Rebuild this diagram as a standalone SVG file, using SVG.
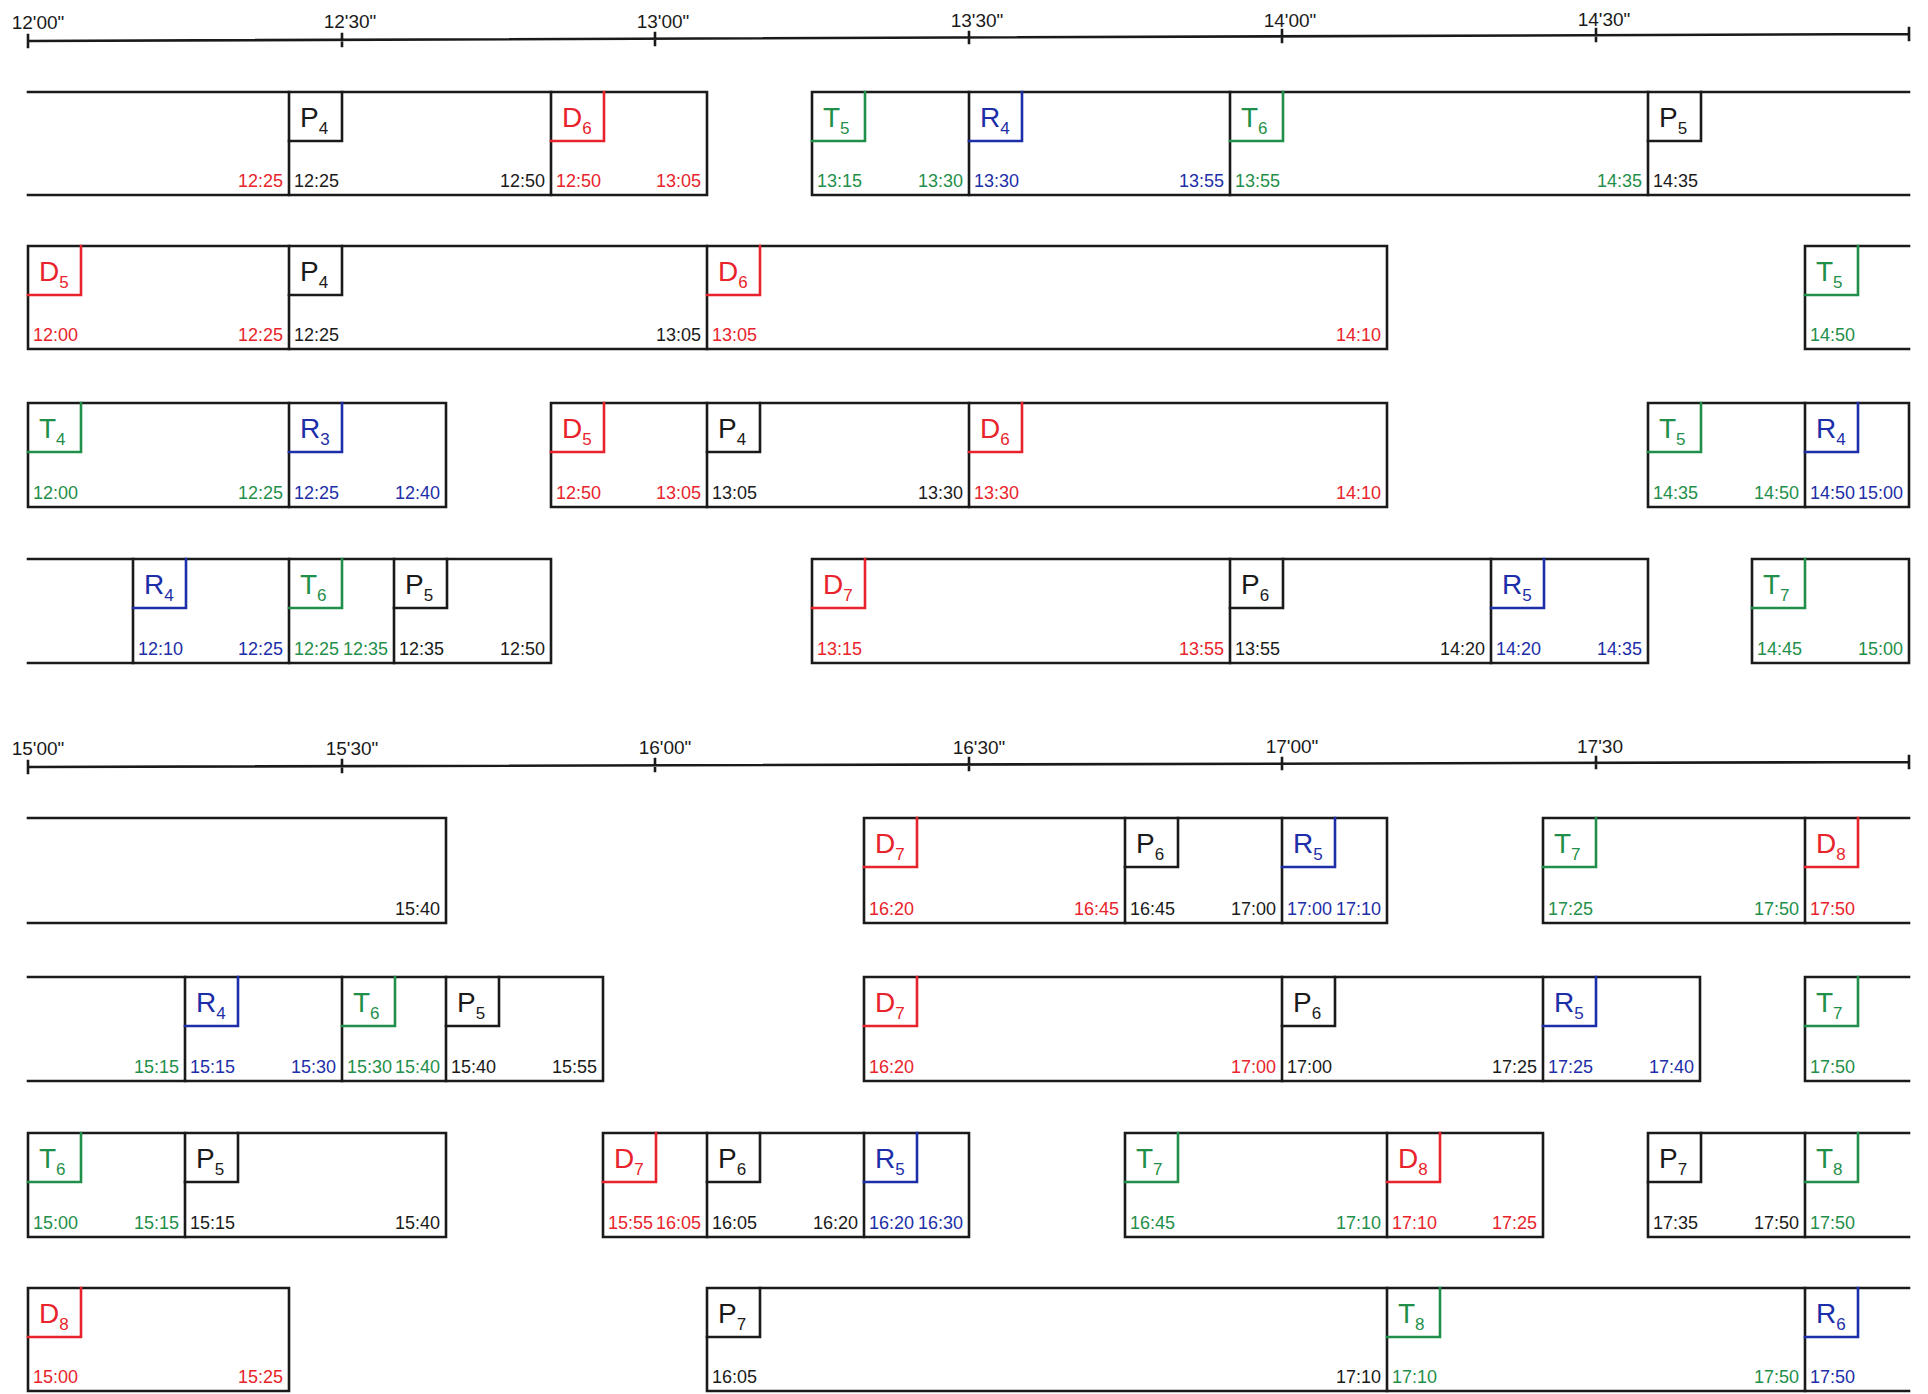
<svg xmlns="http://www.w3.org/2000/svg" width="1928" height="1394" viewBox="0 0 1928 1394">
<style>
.ln{fill:none;stroke:#1a1a1a;stroke-width:2.6;stroke-linecap:square}
.bx{fill:none;stroke-width:2.6;stroke-linecap:square}
.br{stroke:#e8232b}.bg{stroke:#1f8f4a}.bb{stroke:#1c2ea8}.bk{stroke:#1a1a1a}
text{font-family:"Liberation Sans",Arial,sans-serif}
.tm{font-size:18px}
.e{text-anchor:end}
.lb{font-size:28px}
.s{font-size:17px}
.cr{fill:#e8232b}.cg{fill:#1f8f4a}.cb{fill:#1c2ea8}.ck{fill:#1a1a1a}
.ax{font-size:19px;text-anchor:middle;fill:#1a1a1a}
</style>
<rect width="1928" height="1394" fill="#ffffff"/>
<g id="timelines">
<g id="axis-1">
<path class="ln" d="M28 41L1909 34M28 35V47M342 34V46M655 33V45M969 32V43M1282 30V42M1596 29V41M1909 28V40"/>
<text class="ax" x="38" y="29">12'00"</text>
<text class="ax" x="350" y="28">12'30"</text>
<text class="ax" x="663" y="28">13'00"</text>
<text class="ax" x="977" y="27">13'30"</text>
<text class="ax" x="1290" y="27">14'00"</text>
<text class="ax" x="1604" y="26">14'30"</text>
</g>
<g id="axis-2">
<path class="ln" d="M28 767L1909 762M28 761V773M342 760V772M655 759V771M969 758V770M1282 758V769M1596 757V768M1909 756V768"/>
<text class="ax" x="38" y="755">15'00"</text>
<text class="ax" x="352" y="755">15'30"</text>
<text class="ax" x="665" y="754">16'00"</text>
<text class="ax" x="979" y="754">16'30"</text>
<text class="ax" x="1292" y="753">17'00"</text>
<text class="ax" x="1600" y="753">17'30</text>
</g>
</g>
<g id="connectors"></g>

<!-- Row A -->
<g id="a0"><path class="ln" d="M28 92H289M28 195H289"/><text class="tm cr e" x="283" y="187">12:25</text></g>
<g id="a1"><path class="ln" d="M289 92H551M289 195H551M289 92V195"/><path class="bx bk" d="M342 92V141H289"/><text class="lb ck" x="300" y="127">P<tspan class="s" dy="7">4</tspan></text><text class="tm ck" x="294" y="187">12:25</text><text class="tm ck e" x="545" y="187">12:50</text></g>
<g id="a2"><path class="ln" d="M551 92H707M551 195H707M551 92V195M707 92V195"/><path class="bx br" d="M604 92V141H551"/><text class="lb cr" x="562" y="127">D<tspan class="s" dy="7">6</tspan></text><text class="tm cr" x="556" y="187">12:50</text><text class="tm cr e" x="701" y="187">13:05</text></g>
<g id="a3"><path class="ln" d="M812 92H969M812 195H969M812 92V195"/><path class="bx bg" d="M865 92V141H812"/><text class="lb cg" x="823" y="127">T<tspan class="s" dy="7">5</tspan></text><text class="tm cg" x="817" y="187">13:15</text><text class="tm cg e" x="963" y="187">13:30</text></g>
<g id="a4"><path class="ln" d="M969 92H1230M969 195H1230M969 92V195"/><path class="bx bb" d="M1022 92V141H969"/><text class="lb cb" x="980" y="127">R<tspan class="s" dy="7">4</tspan></text><text class="tm cb" x="974" y="187">13:30</text><text class="tm cb e" x="1224" y="187">13:55</text></g>
<g id="a5"><path class="ln" d="M1230 92H1648M1230 195H1648M1230 92V195"/><path class="bx bg" d="M1283 92V141H1230"/><text class="lb cg" x="1241" y="127">T<tspan class="s" dy="7">6</tspan></text><text class="tm cg" x="1235" y="187">13:55</text><text class="tm cg e" x="1642" y="187">14:35</text></g>
<g id="a6"><path class="ln" d="M1648 92H1909M1648 195H1909M1648 92V195"/><path class="bx bk" d="M1701 92V141H1648"/><text class="lb ck" x="1659" y="127">P<tspan class="s" dy="7">5</tspan></text><text class="tm ck" x="1653" y="187">14:35</text></g>

<!-- Row B -->
<g id="b1"><path class="ln" d="M28 246H289M28 349H289M28 246V349"/><path class="bx br" d="M81 246V295H28"/><text class="lb cr" x="39" y="281">D<tspan class="s" dy="7">5</tspan></text><text class="tm cr" x="33" y="341">12:00</text><text class="tm cr e" x="283" y="341">12:25</text></g>
<g id="b2"><path class="ln" d="M289 246H707M289 349H707M289 246V349"/><path class="bx bk" d="M342 246V295H289"/><text class="lb ck" x="300" y="281">P<tspan class="s" dy="7">4</tspan></text><text class="tm ck" x="294" y="341">12:25</text><text class="tm ck e" x="701" y="341">13:05</text></g>
<g id="b3"><path class="ln" d="M707 246H1387M707 349H1387M707 246V349M1387 246V349"/><path class="bx br" d="M760 246V295H707"/><text class="lb cr" x="718" y="281">D<tspan class="s" dy="7">6</tspan></text><text class="tm cr" x="712" y="341">13:05</text><text class="tm cr e" x="1381" y="341">14:10</text></g>
<g id="b4"><path class="ln" d="M1805 246H1909M1805 349H1909M1805 246V349"/><path class="bx bg" d="M1858 246V295H1805"/><text class="lb cg" x="1816" y="281">T<tspan class="s" dy="7">5</tspan></text><text class="tm cg" x="1810" y="341">14:50</text></g>

<!-- Row C -->
<g id="c1"><path class="ln" d="M28 403H289M28 507H289M28 403V507"/><path class="bx bg" d="M81 403V452H28"/><text class="lb cg" x="39" y="438">T<tspan class="s" dy="7">4</tspan></text><text class="tm cg" x="33" y="499">12:00</text><text class="tm cg e" x="283" y="499">12:25</text></g>
<g id="c2"><path class="ln" d="M289 403H446M289 507H446M289 403V507M446 403V507"/><path class="bx bb" d="M342 403V452H289"/><text class="lb cb" x="300" y="438">R<tspan class="s" dy="7">3</tspan></text><text class="tm cb" x="294" y="499">12:25</text><text class="tm cb e" x="440" y="499">12:40</text></g>
<g id="c3"><path class="ln" d="M551 403H707M551 507H707M551 403V507"/><path class="bx br" d="M604 403V452H551"/><text class="lb cr" x="562" y="438">D<tspan class="s" dy="7">5</tspan></text><text class="tm cr" x="556" y="499">12:50</text><text class="tm cr e" x="701" y="499">13:05</text></g>
<g id="c4"><path class="ln" d="M707 403H969M707 507H969M707 403V507"/><path class="bx bk" d="M760 403V452H707"/><text class="lb ck" x="718" y="438">P<tspan class="s" dy="7">4</tspan></text><text class="tm ck" x="712" y="499">13:05</text><text class="tm ck e" x="963" y="499">13:30</text></g>
<g id="c5"><path class="ln" d="M969 403H1387M969 507H1387M969 403V507M1387 403V507"/><path class="bx br" d="M1022 403V452H969"/><text class="lb cr" x="980" y="438">D<tspan class="s" dy="7">6</tspan></text><text class="tm cr" x="974" y="499">13:30</text><text class="tm cr e" x="1381" y="499">14:10</text></g>
<g id="c6"><path class="ln" d="M1648 403H1805M1648 507H1805M1648 403V507"/><path class="bx bg" d="M1701 403V452H1648"/><text class="lb cg" x="1659" y="438">T<tspan class="s" dy="7">5</tspan></text><text class="tm cg" x="1653" y="499">14:35</text><text class="tm cg e" x="1799" y="499">14:50</text></g>
<g id="c7"><path class="ln" d="M1805 403H1909M1805 507H1909M1805 403V507M1909 403V507"/><path class="bx bb" d="M1858 403V452H1805"/><text class="lb cb" x="1816" y="438">R<tspan class="s" dy="7">4</tspan></text><text class="tm cb" x="1810" y="499">14:50</text><text class="tm cb e" x="1903" y="499">15:00</text></g>

<!-- Row D -->
<g id="d0"><path class="ln" d="M28 559H133M28 663H133"/></g>
<g id="d1"><path class="ln" d="M133 559H289M133 663H289M133 559V663"/><path class="bx bb" d="M186 559V608H133"/><text class="lb cb" x="144" y="594">R<tspan class="s" dy="7">4</tspan></text><text class="tm cb" x="138" y="655">12:10</text><text class="tm cb e" x="283" y="655">12:25</text></g>
<g id="d2"><path class="ln" d="M289 559H394M289 663H394M289 559V663"/><path class="bx bg" d="M342 559V608H289"/><text class="lb cg" x="300" y="594">T<tspan class="s" dy="7">6</tspan></text><text class="tm cg" x="294" y="655">12:25</text><text class="tm cg e" x="388" y="655">12:35</text></g>
<g id="d3"><path class="ln" d="M394 559H551M394 663H551M394 559V663M551 559V663"/><path class="bx bk" d="M447 559V608H394"/><text class="lb ck" x="405" y="594">P<tspan class="s" dy="7">5</tspan></text><text class="tm ck" x="399" y="655">12:35</text><text class="tm ck e" x="545" y="655">12:50</text></g>
<g id="d4"><path class="ln" d="M812 559H1230M812 663H1230M812 559V663"/><path class="bx br" d="M865 559V608H812"/><text class="lb cr" x="823" y="594">D<tspan class="s" dy="7">7</tspan></text><text class="tm cr" x="817" y="655">13:15</text><text class="tm cr e" x="1224" y="655">13:55</text></g>
<g id="d5"><path class="ln" d="M1230 559H1491M1230 663H1491M1230 559V663"/><path class="bx bk" d="M1283 559V608H1230"/><text class="lb ck" x="1241" y="594">P<tspan class="s" dy="7">6</tspan></text><text class="tm ck" x="1235" y="655">13:55</text><text class="tm ck e" x="1485" y="655">14:20</text></g>
<g id="d6"><path class="ln" d="M1491 559H1648M1491 663H1648M1491 559V663M1648 559V663"/><path class="bx bb" d="M1544 559V608H1491"/><text class="lb cb" x="1502" y="594">R<tspan class="s" dy="7">5</tspan></text><text class="tm cb" x="1496" y="655">14:20</text><text class="tm cb e" x="1642" y="655">14:35</text></g>
<g id="d7"><path class="ln" d="M1752 559H1909M1752 663H1909M1752 559V663M1909 559V663"/><path class="bx bg" d="M1805 559V608H1752"/><text class="lb cg" x="1763" y="594">T<tspan class="s" dy="7">7</tspan></text><text class="tm cg" x="1757" y="655">14:45</text><text class="tm cg e" x="1903" y="655">15:00</text></g>

<!-- Row E -->
<g id="e0"><path class="ln" d="M28 818H446M28 923H446M446 818V923"/><text class="tm ck e" x="440" y="915">15:40</text></g>
<g id="e1"><path class="ln" d="M864 818H1125M864 923H1125M864 818V923"/><path class="bx br" d="M917 818V867H864"/><text class="lb cr" x="875" y="853">D<tspan class="s" dy="7">7</tspan></text><text class="tm cr" x="869" y="915">16:20</text><text class="tm cr e" x="1119" y="915">16:45</text></g>
<g id="e2"><path class="ln" d="M1125 818H1282M1125 923H1282M1125 818V923"/><path class="bx bk" d="M1178 818V867H1125"/><text class="lb ck" x="1136" y="853">P<tspan class="s" dy="7">6</tspan></text><text class="tm ck" x="1130" y="915">16:45</text><text class="tm ck e" x="1276" y="915">17:00</text></g>
<g id="e3"><path class="ln" d="M1282 818H1387M1282 923H1387M1282 818V923M1387 818V923"/><path class="bx bb" d="M1335 818V867H1282"/><text class="lb cb" x="1293" y="853">R<tspan class="s" dy="7">5</tspan></text><text class="tm cb" x="1287" y="915">17:00</text><text class="tm cb e" x="1381" y="915">17:10</text></g>
<g id="e4"><path class="ln" d="M1543 818H1805M1543 923H1805M1543 818V923"/><path class="bx bg" d="M1596 818V867H1543"/><text class="lb cg" x="1554" y="853">T<tspan class="s" dy="7">7</tspan></text><text class="tm cg" x="1548" y="915">17:25</text><text class="tm cg e" x="1799" y="915">17:50</text></g>
<g id="e5"><path class="ln" d="M1805 818H1909M1805 923H1909M1805 818V923"/><path class="bx br" d="M1858 818V867H1805"/><text class="lb cr" x="1816" y="853">D<tspan class="s" dy="7">8</tspan></text><text class="tm cr" x="1810" y="915">17:50</text></g>

<!-- Row F -->
<g id="f0"><path class="ln" d="M28 977H185M28 1081H185"/><text class="tm cg e" x="179" y="1073">15:15</text></g>
<g id="f1"><path class="ln" d="M185 977H342M185 1081H342M185 977V1081"/><path class="bx bb" d="M238 977V1026H185"/><text class="lb cb" x="196" y="1012">R<tspan class="s" dy="7">4</tspan></text><text class="tm cb" x="190" y="1073">15:15</text><text class="tm cb e" x="336" y="1073">15:30</text></g>
<g id="f2"><path class="ln" d="M342 977H446M342 1081H446M342 977V1081"/><path class="bx bg" d="M395 977V1026H342"/><text class="lb cg" x="353" y="1012">T<tspan class="s" dy="7">6</tspan></text><text class="tm cg" x="347" y="1073">15:30</text><text class="tm cg e" x="440" y="1073">15:40</text></g>
<g id="f3"><path class="ln" d="M446 977H603M446 1081H603M446 977V1081M603 977V1081"/><path class="bx bk" d="M499 977V1026H446"/><text class="lb ck" x="457" y="1012">P<tspan class="s" dy="7">5</tspan></text><text class="tm ck" x="451" y="1073">15:40</text><text class="tm ck e" x="597" y="1073">15:55</text></g>
<g id="f4"><path class="ln" d="M864 977H1282M864 1081H1282M864 977V1081"/><path class="bx br" d="M917 977V1026H864"/><text class="lb cr" x="875" y="1012">D<tspan class="s" dy="7">7</tspan></text><text class="tm cr" x="869" y="1073">16:20</text><text class="tm cr e" x="1276" y="1073">17:00</text></g>
<g id="f5"><path class="ln" d="M1282 977H1543M1282 1081H1543M1282 977V1081"/><path class="bx bk" d="M1335 977V1026H1282"/><text class="lb ck" x="1293" y="1012">P<tspan class="s" dy="7">6</tspan></text><text class="tm ck" x="1287" y="1073">17:00</text><text class="tm ck e" x="1537" y="1073">17:25</text></g>
<g id="f6"><path class="ln" d="M1543 977H1700M1543 1081H1700M1543 977V1081M1700 977V1081"/><path class="bx bb" d="M1596 977V1026H1543"/><text class="lb cb" x="1554" y="1012">R<tspan class="s" dy="7">5</tspan></text><text class="tm cb" x="1548" y="1073">17:25</text><text class="tm cb e" x="1694" y="1073">17:40</text></g>
<g id="f7"><path class="ln" d="M1805 977H1909M1805 1081H1909M1805 977V1081"/><path class="bx bg" d="M1858 977V1026H1805"/><text class="lb cg" x="1816" y="1012">T<tspan class="s" dy="7">7</tspan></text><text class="tm cg" x="1810" y="1073">17:50</text></g>

<!-- Row G -->
<g id="g1"><path class="ln" d="M28 1133H185M28 1237H185M28 1133V1237"/><path class="bx bg" d="M81 1133V1182H28"/><text class="lb cg" x="39" y="1168">T<tspan class="s" dy="7">6</tspan></text><text class="tm cg" x="33" y="1229">15:00</text><text class="tm cg e" x="179" y="1229">15:15</text></g>
<g id="g2"><path class="ln" d="M185 1133H446M185 1237H446M185 1133V1237M446 1133V1237"/><path class="bx bk" d="M238 1133V1182H185"/><text class="lb ck" x="196" y="1168">P<tspan class="s" dy="7">5</tspan></text><text class="tm ck" x="190" y="1229">15:15</text><text class="tm ck e" x="440" y="1229">15:40</text></g>
<g id="g3"><path class="ln" d="M603 1133H707M603 1237H707M603 1133V1237"/><path class="bx br" d="M656 1133V1182H603"/><text class="lb cr" x="614" y="1168">D<tspan class="s" dy="7">7</tspan></text><text class="tm cr" x="608" y="1229">15:55</text><text class="tm cr e" x="701" y="1229">16:05</text></g>
<g id="g4"><path class="ln" d="M707 1133H864M707 1237H864M707 1133V1237"/><path class="bx bk" d="M760 1133V1182H707"/><text class="lb ck" x="718" y="1168">P<tspan class="s" dy="7">6</tspan></text><text class="tm ck" x="712" y="1229">16:05</text><text class="tm ck e" x="858" y="1229">16:20</text></g>
<g id="g5"><path class="ln" d="M864 1133H969M864 1237H969M864 1133V1237M969 1133V1237"/><path class="bx bb" d="M917 1133V1182H864"/><text class="lb cb" x="875" y="1168">R<tspan class="s" dy="7">5</tspan></text><text class="tm cb" x="869" y="1229">16:20</text><text class="tm cb e" x="963" y="1229">16:30</text></g>
<g id="g6"><path class="ln" d="M1125 1133H1387M1125 1237H1387M1125 1133V1237"/><path class="bx bg" d="M1178 1133V1182H1125"/><text class="lb cg" x="1136" y="1168">T<tspan class="s" dy="7">7</tspan></text><text class="tm cg" x="1130" y="1229">16:45</text><text class="tm cg e" x="1381" y="1229">17:10</text></g>
<g id="g7"><path class="ln" d="M1387 1133H1543M1387 1237H1543M1387 1133V1237M1543 1133V1237"/><path class="bx br" d="M1440 1133V1182H1387"/><text class="lb cr" x="1398" y="1168">D<tspan class="s" dy="7">8</tspan></text><text class="tm cr" x="1392" y="1229">17:10</text><text class="tm cr e" x="1537" y="1229">17:25</text></g>
<g id="g8"><path class="ln" d="M1648 1133H1805M1648 1237H1805M1648 1133V1237"/><path class="bx bk" d="M1701 1133V1182H1648"/><text class="lb ck" x="1659" y="1168">P<tspan class="s" dy="7">7</tspan></text><text class="tm ck" x="1653" y="1229">17:35</text><text class="tm ck e" x="1799" y="1229">17:50</text></g>
<g id="g9"><path class="ln" d="M1805 1133H1909M1805 1237H1909M1805 1133V1237"/><path class="bx bg" d="M1858 1133V1182H1805"/><text class="lb cg" x="1816" y="1168">T<tspan class="s" dy="7">8</tspan></text><text class="tm cg" x="1810" y="1229">17:50</text></g>

<!-- Row H -->
<g id="h1"><path class="ln" d="M28 1288H289M28 1391H289M28 1288V1391M289 1288V1391"/><path class="bx br" d="M81 1288V1337H28"/><text class="lb cr" x="39" y="1323">D<tspan class="s" dy="7">8</tspan></text><text class="tm cr" x="33" y="1383">15:00</text><text class="tm cr e" x="283" y="1383">15:25</text></g>
<g id="h2"><path class="ln" d="M707 1288H1387M707 1391H1387M707 1288V1391"/><path class="bx bk" d="M760 1288V1337H707"/><text class="lb ck" x="718" y="1323">P<tspan class="s" dy="7">7</tspan></text><text class="tm ck" x="712" y="1383">16:05</text><text class="tm ck e" x="1381" y="1383">17:10</text></g>
<g id="h3"><path class="ln" d="M1387 1288H1805M1387 1391H1805M1387 1288V1391"/><path class="bx bg" d="M1440 1288V1337H1387"/><text class="lb cg" x="1398" y="1323">T<tspan class="s" dy="7">8</tspan></text><text class="tm cg" x="1392" y="1383">17:10</text><text class="tm cg e" x="1799" y="1383">17:50</text></g>
<g id="h4"><path class="ln" d="M1805 1288H1909M1805 1391H1909M1805 1288V1391"/><path class="bx bb" d="M1858 1288V1337H1805"/><text class="lb cb" x="1816" y="1323">R<tspan class="s" dy="7">6</tspan></text><text class="tm cb" x="1810" y="1383">17:50</text></g>
</svg>
